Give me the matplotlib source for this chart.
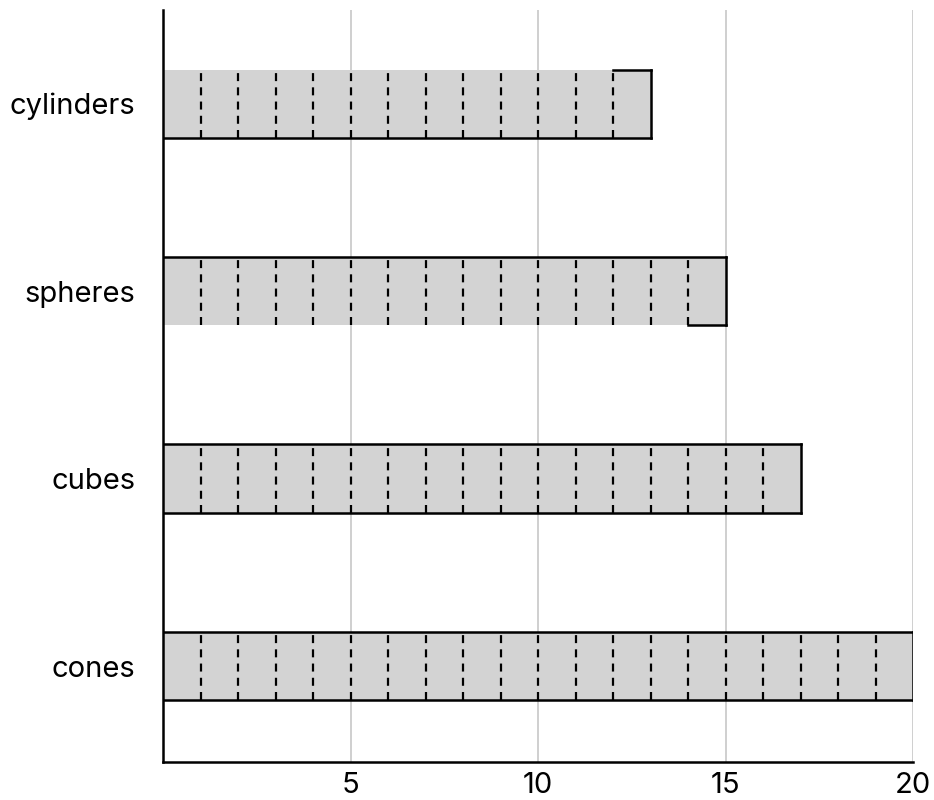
import matplotlib
matplotlib.use("Agg")
import matplotlib.pyplot as plt

categories = ["cones", "cubes", "spheres", "cylinders"]
values = [20, 17, 15, 13]
xticks = [5, 10, 15, 20]
# which horizontal borders are drawn along the full bar ("full") or only on the last unit ("last")
top_border = ["full", "full", "full", "last"]
bottom_border = ["full", "full", "last", "full"]

plt.rcParams['font.family'] = ['Inter', 'DejaVu Sans']

fig = plt.figure(figsize=(9.34, 8.0), dpi=100)
ax = fig.add_axes([163/934, 38/800, 750/934, 752/800])

h = 0.365
fill = "#d3d3d3"
for i, (cat, v) in enumerate(zip(categories, values)):
    ax.barh(i, v, height=h, color=fill, edgecolor="none", zorder=2)
    # dashed unit separators
    for k in range(1, v):
        ax.plot([k, k], [i - h/2, i + h/2], color="black", lw=1.6,
                linestyle=(0, (3.6, 2.8)), zorder=3, solid_capstyle="butt", dash_capstyle="butt")
    # right edge
    ax.plot([v, v], [i - h/2, i + h/2], color="black", lw=1.8, zorder=4, solid_capstyle="projecting")
    # top / bottom borders
    ts = 0 if top_border[i] == "full" else v - 1
    bs = 0 if bottom_border[i] == "full" else v - 1
    ax.plot([ts, v], [i + h/2, i + h/2], color="black", lw=1.8, zorder=4, solid_capstyle="projecting")
    ax.plot([bs, v], [i - h/2, i - h/2], color="black", lw=1.8, zorder=4, solid_capstyle="projecting")

ax.set_xlim(0, 20)
ax.set_ylim(-0.512, 3.5)
ax.set_xticks(xticks)
ax.set_xticklabels([str(t) for t in xticks])
ax.set_yticks(range(len(categories)))
ax.set_yticklabels(categories)
ax.tick_params(axis="both", length=0, labelsize=21)
ax.tick_params(axis="x", pad=7)
ax.tick_params(axis="y", pad=20)
ax.grid(axis="x", color="#cccccc", lw=1.3, zorder=0)
ax.set_axisbelow(True)
for s in ["top", "right"]:
    ax.spines[s].set_visible(False)
for s in ["left", "bottom"]:
    ax.spines[s].set_linewidth(1.8)
    ax.spines[s].set_zorder(5)

fig.savefig("out.png", dpi=100)
